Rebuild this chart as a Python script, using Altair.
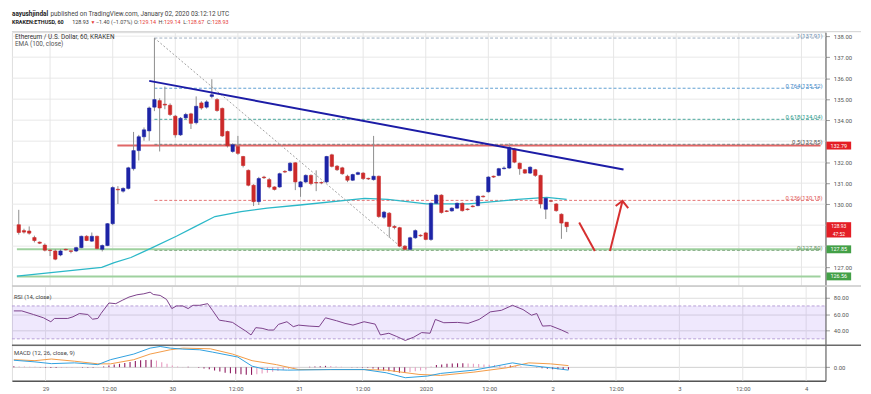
import altair as alt
import pandas as pd

# ---------------- data (hourly candles, t = hours from Dec 29 00:00) ----------------
FIRST_T = -6
opens = [
    129.02, 128.74, 128.72, 128.41, 128.19, 128.05,
    127.81, 127.77, 127.58, 127.85, 127.78, 127.77, 127.93, 128.47, 128.24, 128.47, 127.85,
    128.03, 129.07, 130.71, 130.62, 130.75, 131.69, 132.55, 133.21, 133.49,
    134.62, 134.93, 134.76, 134.71, 134.19, 133.30, 134.11, 134.30, 133.88, 134.82,
    134.62, 135.13, 134.98, 134.56, 133.46, 132.51, 132.74, 132.27, 131.61, 130.90,
    130.12, 131.29, 131.17, 130.82, 130.82, 131.56, 131.60, 131.97, 130.82, 131.06,
    131.37, 131.03, 131.03, 131.06, 132.35, 131.81, 131.73, 131.33, 131.14, 131.42,
    131.48, 131.23, 131.17, 131.33, 129.38, 129.57, 128.94, 128.88, 128.00, 127.85,
    128.40, 128.52, 128.63, 128.32, 130.04, 130.43, 129.68, 129.68, 129.81, 130.04,
    129.77, 129.91, 129.93, 130.38, 130.59, 131.33, 131.37, 131.69, 131.72, 132.63,
    131.95, 131.64, 131.48, 131.64, 131.37, 129.76, 130.16, 130.01, 129.52, 129.14,
]
closes = [
    128.65, 128.67, 128.62, 128.27, 128.14, 127.81,
    127.79, 127.38, 127.77, 127.82, 127.75, 127.93, 128.47, 128.27, 128.47, 127.89, 128.03,
    129.07, 130.79, 130.68, 130.75, 131.73, 132.55, 133.21, 133.54, 134.58,
    134.98, 134.58, 134.72, 134.27, 133.30, 134.09, 134.27, 133.85, 134.66, 134.58,
    134.87, 135.21, 134.46, 133.25, 132.78, 132.83, 132.42, 131.84, 130.90, 130.12,
    131.22, 131.26, 130.82, 130.70, 131.45, 131.53, 131.95, 131.06, 131.06, 131.37,
    130.98, 131.01, 131.01, 132.27, 131.80, 131.64, 131.45, 131.14, 131.41, 131.50,
    131.22, 131.20, 131.33, 129.41, 129.62, 128.94, 128.89, 128.00, 127.85, 128.40,
    128.74, 128.49, 128.32, 130.04, 130.43, 129.60, 129.65, 129.81, 130.04, 129.69,
    129.74, 129.88, 130.38, 130.35, 131.29, 131.29, 131.69, 131.72, 132.70, 132.00,
    131.69, 131.48, 131.76, 131.37, 130.01, 130.28, 130.14, 129.69, 129.10, 128.93,
]
highs = [
    129.73, 128.83, 128.94, 128.50, 128.22, 128.13,
    127.85, 127.85, 127.85, 127.88, 127.80, 127.97, 128.50, 128.52, 128.65, 128.50, 128.08,
    129.10, 130.85, 130.86, 130.80, 131.78, 133.44, 133.30, 133.65, 134.65,
    137.91, 135.04, 135.60, 134.80, 134.25, 134.15, 134.35, 134.35, 135.13, 134.90,
    134.95, 135.95, 135.05, 134.60, 133.50, 132.90, 133.25, 132.30, 131.65, 130.95,
    131.30, 131.35, 131.25, 130.85, 131.50, 131.62, 132.00, 132.00, 131.10, 131.42,
    131.42, 131.61, 131.08, 132.30, 132.40, 131.86, 131.78, 131.40, 131.45, 131.55,
    131.52, 131.26, 133.25, 131.36, 129.68, 129.62, 129.00, 128.92, 128.05, 128.45,
    128.80, 128.56, 128.68, 130.08, 130.48, 130.47, 129.72, 129.85, 130.08, 130.08,
    129.80, 129.95, 130.42, 130.42, 131.33, 131.36, 131.73, 131.80, 132.90, 132.68,
    131.98, 131.68, 131.80, 131.68, 131.40, 130.32, 130.20, 130.05, 129.56, 129.14,
]
lows = [
    128.55, 128.60, 128.55, 128.18, 128.10, 127.75,
    127.53, 127.33, 127.52, 127.80, 127.66, 127.72, 127.90, 128.24, 128.20, 127.85, 127.75,
    128.00, 129.00, 130.01, 130.55, 130.70, 131.60, 132.08, 133.02, 133.02,
    134.43, 132.51, 134.52, 134.20, 133.17, 133.25, 134.05, 133.58, 133.80, 134.50,
    134.55, 135.04, 134.40, 133.20, 132.70, 132.45, 132.35, 131.75, 130.85, 129.91,
    129.96, 131.20, 130.75, 130.65, 130.78, 131.48, 131.55, 130.67, 130.35, 131.00,
    130.90, 130.62, 130.95, 131.00, 131.75, 131.58, 131.40, 131.05, 131.10, 131.38,
    131.15, 131.15, 131.12, 129.35, 129.30, 128.41, 128.80, 127.95, 127.80, 127.78,
    128.35, 128.45, 128.28, 128.25, 130.00, 129.55, 129.62, 129.64, 129.78, 129.65,
    129.70, 129.85, 129.90, 130.32, 130.55, 131.25, 131.33, 131.66, 131.68, 131.95,
    131.40, 131.44, 131.44, 131.30, 129.80, 129.29, 130.10, 129.64, 128.35, 128.67,
]
hist = [
    0.08, 0.06, 0.05, 0.04, 0.03, -0.03,
    -0.05, -0.08, -0.08, -0.07, -0.06, -0.05, -0.03, -0.04, -0.05, -0.06, -0.04,
    0.05, 0.15, 0.25, 0.30, 0.38, 0.48, 0.55, 0.62, 0.66,
    0.68, 0.60, 0.45, 0.30, 0.15, 0.05, -0.02, 0.03, 0.00, -0.05,
    -0.12, -0.20, -0.30, -0.40, -0.50, -0.55, -0.60, -0.65, -0.68, -0.70,
    -0.65, -0.58, -0.50, -0.42, -0.35, -0.25, -0.15, -0.10, -0.05, 0.00,
    0.03, 0.05, 0.08, 0.12, 0.10, 0.06, 0.03, 0.00, -0.02, -0.04,
    -0.05, -0.06, -0.12, -0.25, -0.30, -0.38, -0.42, -0.50, -0.52, -0.45,
    -0.38, -0.30, -0.22, 0.05, 0.20, 0.25, 0.30, 0.33, 0.35, 0.36,
    0.34, 0.30, 0.28, 0.25, 0.22, 0.20, 0.15, 0.12, 0.15, 0.10,
    0.05, 0.02, 0.00, -0.03, -0.10, -0.15, -0.18, -0.20, -0.22, -0.22,
]

ema_t = [-6.36, 9.9, 12.3, 15.5, 19.2, 24.2, 27.9, 31.6, 36.6, 41.6, 47.9, 60.3, 64.7, 72.1, 80.2, 89.6, 95.2, 99]
ema_p = [126.57, 126.99, 127.22, 127.46, 127.88, 128.47, 128.94, 129.41, 129.65, 129.81, 129.96, 130.28, 130.23,
         130.01, 130.01, 130.23, 130.32, 130.23]

rsi_t = [-6.0, -4.5, -2.3, -0.4, 1.0, 1.7, 4.2, 5.2, 6.4, 8.0, 8.9, 9.9, 10.5, 12.0, 13.3, 14.5, 15.8, 17.3, 18.6,
         19.8, 20.4, 21.7, 22.9, 23.9, 24.8, 26.0, 27.0, 27.9, 29.2, 30.7, 31.6, 32.9, 34.1, 35.4, 36.6, 37.9, 38.9,
         39.8, 41.0, 42.2, 43.2, 44.1, 45.7, 46.9, 47.9, 49.9, 51.8, 53.0, 55.1, 56.7, 58.2, 60.3, 62.4, 63.4, 65.0,
         66.5, 68.1, 69.7, 71.2, 72.8, 73.8, 75.4, 78.0, 80.0, 82.1, 84.2, 86.3, 88.4, 90.4, 92.0, 93.0, 94.1, 95.6,
         97.7, 99.0]
rsi_v = [64.0, 64.0, 59.6, 55.6, 50.8, 54.8, 54.8, 56.8, 60.8, 59.6, 53.9, 54.8, 60.8, 73.6, 72.8, 76.8, 80.8, 83.6,
         84.8, 86.8, 84.0, 82.8, 78.0, 66.8, 70.0, 70.0, 66.8, 70.8, 70.8, 72.8, 64.7, 52.7, 51.5, 50.0, 44.8, 39.5,
         34.7, 43.6, 42.8, 40.7, 40.7, 47.6, 50.8, 44.8, 46.7, 45.5, 44.8, 55.6, 52.0, 48.8, 46.7, 50.8, 47.9, 34.7,
         36.8, 32.8, 28.0, 32.0, 37.6, 36.8, 53.6, 49.6, 50.0, 48.8, 53.6, 62.8, 64.7, 70.8, 65.6, 58.7, 60.8, 45.5,
         46.0, 40.7, 36.8]

macd_t = [-6.0, -2.0, 1.1, 5.5, 9.9, 12.3, 16.7, 19.8, 21.7, 23.6, 26.0, 29.2, 31.6, 36.4, 39.1, 41.6, 45.8, 54.0,
          60.3, 64.5, 68.1, 72.3, 74.8, 81.1, 85.2, 88.4, 90.4, 95.6, 99.0]
macd_v = [0.63, 0.48, 0.32, 0.39, 0.23, 0.68, 1.19, 1.73, 1.88, 1.73, 1.64, 1.58, 1.37, 0.92, 0.09, -0.20, -0.27,
          -0.22, -0.22, -0.51, -0.96, -0.81, -0.57, -0.27, 0.09, 0.39, 0.23, -0.06, -0.27]
sig_t = [-6.0, -2.0, 1.1, 5.5, 9.9, 12.3, 16.7, 19.8, 23.6, 26.0, 31.2, 35.4, 39.1, 43.7, 47.9, 54.1, 60.3, 64.5,
         70.7, 74.8, 81.1, 87.3, 91.5, 95.6, 99.0]
sig_v = [0.68, 0.59, 0.74, 0.54, 0.30, 0.30, 0.68, 1.19, 1.58, 1.73, 1.67, 1.19, 0.59, 0.23, -0.22, -0.22, -0.22,
         -0.27, -0.66, -0.75, -0.45, -0.06, 0.39, 0.30, 0.14]

fib_ratio = ["1", "0.764", "0.618", "0.5", "0.236", "0"]
fib_price = [137.91, 135.52, 134.04, 132.85, 130.18, 127.80]

trend_t = [19.0, 109.9]
trend_p = [135.87, 131.65]
diag_t = [20, 68]
diag_p = [137.91, 127.80]

arrow_seg = ["a", "a", "b", "b", "h", "h", "h"]
arrow_t = [101.4, 104.4, 107.3, 109.7, 108.4, 109.7, 110.8]
arrow_p = [129.13, 127.77, 127.77, 130.15, 129.91, 130.16, 129.81]

level_price = [132.79, 127.85, 126.56]
level_start = [12.9, -6.36, -6.36]

price_grid = list(range(127, 139))
price_ticks = [138, 137, 136, 135, 134, 132, 131, 130, 127]   # 133, 129, 128 sit under the price tags

x_tick_t = list(range(0, 145, 12))
x_tick_labels = ["29", "12:00", "30", "12:00", "31", "12:00", "2020", "12:00", "2", "12:00", "3", "12:00", "4"]

last_price = 128.93
countdown = "47:52"

# ---------------- layout / styles ----------------
W = 824
H1, H2, H3 = 257, 60, 36
XDOM = [-6.36, 147.66]
PDOM = [126.107, 138.19]
RDOM = [22.3, 94.4]
MDOM = [-1.23, 2.0]
UP, DOWN = "#1d24a6", "#cc2a2a"
FONT = "Roboto"
level_colors = ["#e06666", "#9fd19f", "#9fd19f"]
fib_line_colors = ["#9fb0c2", "#5f9fd2", "#4aa79b", "#808080", "#e57373", "#7fa87f"]
fib_text_colors = ["#6d8db0", "#3f88c8", "#2f9c8e", "#555555", "#e05555", "#6a946a"]


def xs():
    return alt.Scale(domain=XDOM, nice=False, zero=False)


def ps():
    return alt.Scale(domain=PDOM, nice=False, zero=False)


PA = alt.Axis(orient="right", values=price_ticks, format=".2f", grid=False,
              domainColor="#555555", tickColor="#999999", tickSize=4, labelFontSize=6, labelColor="#555555",
              labelPadding=4, title=None)
RA = alt.Axis(orient="right", values=[40, 60, 80], format=".2f", grid=True, gridColor="#dcdcdc",
              domainColor="#555555", tickColor="#999999", tickSize=4, labelFontSize=6, labelColor="#555555",
              labelPadding=4, title=None)
MA = alt.Axis(orient="right", values=[0], format=".2f", grid=True, gridColor="#d0d0d0",
              domainColor="#555555", tickColor="#999999", tickSize=4, labelFontSize=6, labelColor="#555555",
              labelPadding=4, title=None)
label_expr = "[" + ",".join("'%s'" % s for s in x_tick_labels) + "][round(datum.value/12)]"
XA = alt.Axis(values=x_tick_t, labelExpr=label_expr, grid=False, ticks=False, domainColor="#555555",
              domainWidth=1.5, labelFontSize=6, labelColor="#555555", labelPadding=5, title=None)

one = pd.DataFrame({"k": [0]})


def txt(s, px, py, size=6.5, color="#333333", weight="normal", align="left"):
    return alt.Chart(one).mark_text(text=s, fontSize=size, color=color, fontWeight=weight, align=align,
                                    baseline="middle", font=FONT).encode(x=alt.value(px), y=alt.value(py))


def hrule(py, color, width=1, x2=W + 36):
    return alt.Chart(one).mark_rule(color=color, strokeWidth=width).encode(
        x=alt.value(0), x2=alt.value(x2), y=alt.value(py))


vgrid_df = pd.DataFrame({"t": x_tick_t})


def vgrid(axis=None):
    return alt.Chart(vgrid_df).mark_rule(color="#e6e6e6", strokeWidth=1).encode(
        x=alt.X("t:Q", scale=xs(), axis=axis))


# ---------------- price panel ----------------
t_vals = list(range(FIRST_T, FIRST_T + len(opens)))
candles = pd.DataFrame({"t": t_vals, "open": opens, "close": closes, "high": highs, "low": lows})
candles["c"] = [UP if c >= o else DOWN for o, c in zip(opens, closes)]

hgrid = alt.Chart(pd.DataFrame({"p": price_grid})).mark_rule(color="#e8e8e8", strokeWidth=1).encode(
    x=alt.value(0), x2=alt.value(W), y=alt.Y("p:Q", scale=ps(), axis=PA))
wicks = alt.Chart(candles).mark_rule(color="#8c8c8c", strokeWidth=1).encode(
    x=alt.X("t:Q", scale=xs(), axis=None), y=alt.Y("low:Q", scale=ps(), axis=PA), y2="high:Q")
bodies = alt.Chart(candles).mark_bar(size=3.4, strokeWidth=0.6).encode(
    x=alt.X("t:Q", scale=xs(), axis=None), y=alt.Y("open:Q", scale=ps(), axis=PA), y2="close:Q",
    color=alt.Color("c:N", scale=None), stroke=alt.Stroke("c:N", scale=None))

lv_df = pd.DataFrame({"p": level_price, "t1": level_start, "t2": [XDOM[1]] * 3, "c": level_colors})
levels = alt.Chart(lv_df).mark_rule(strokeWidth=2).encode(
    x=alt.X("t1:Q", scale=xs(), axis=None), x2="t2:Q", y=alt.Y("p:Q", scale=ps(), axis=PA),
    color=alt.Color("c:N", scale=None))

fib_df = pd.DataFrame({"p": fib_price, "t1": [20] * 6, "t2": [XDOM[1]] * 6, "c": fib_line_colors,
                       "tc": fib_text_colors,
                       "lab": ["%s(%.2f)" % (r, p) for r, p in zip(fib_ratio, fib_price)]})
fibs = alt.Chart(fib_df).mark_rule(strokeWidth=1, strokeDash=[3, 2]).encode(
    x=alt.X("t1:Q", scale=xs(), axis=None), x2="t2:Q", y=alt.Y("p:Q", scale=ps(), axis=PA),
    color=alt.Color("c:N", scale=None))
fib_labels = alt.Chart(fib_df).mark_text(align="right", baseline="middle", dy=-2, fontSize=6, font=FONT).encode(
    x=alt.value(W - 3), y=alt.Y("p:Q", scale=ps(), axis=PA), text="lab:N", color=alt.Color("tc:N", scale=None))

ema = alt.Chart(pd.DataFrame({"t": ema_t, "p": ema_p})).mark_line(color="#2bb8c8", strokeWidth=1.3).encode(
    x=alt.X("t:Q", scale=xs(), axis=None), y=alt.Y("p:Q", scale=ps(), axis=PA))
trend = alt.Chart(pd.DataFrame({"t": trend_t, "p": trend_p})).mark_line(color="#1c1ca6", strokeWidth=2).encode(
    x=alt.X("t:Q", scale=xs(), axis=None), y=alt.Y("p:Q", scale=ps(), axis=PA))
diag = alt.Chart(pd.DataFrame({"t": diag_t, "p": diag_p})).mark_line(
    color="#a0a0a0", strokeWidth=1, strokeDash=[2, 2]).encode(
    x=alt.X("t:Q", scale=xs(), axis=None), y=alt.Y("p:Q", scale=ps(), axis=PA))
arrows = alt.Chart(pd.DataFrame({"s": arrow_seg, "t": arrow_t, "p": arrow_p, "o": list(range(len(arrow_t)))})
                   ).mark_line(color="#d62f2f", strokeWidth=2).encode(
    x=alt.X("t:Q", scale=xs(), axis=None), y=alt.Y("p:Q", scale=ps(), axis=PA), detail="s:N", order="o:Q")


def box(price, color, top=-4, bottom=4):
    return alt.Chart(pd.DataFrame({"p": [price]})).mark_rect(color=color, yOffset=top, y2Offset=bottom).encode(
        x=alt.value(W + 1), x2=alt.value(W + 26), y=alt.Y("p:Q", scale=ps(), axis=PA), y2="p:Q")


def box_text(price, s, dy=0, size=5.5):
    return alt.Chart(pd.DataFrame({"p": [price]})).mark_text(
        text=s, color="white", fontSize=size, align="center", baseline="middle", dy=dy, font=FONT).encode(
        x=alt.value(W + 13.5), y=alt.Y("p:Q", scale=ps(), axis=PA))


HS = 5.5  # header line-2 font size
price_layers = [
    hgrid, vgrid(), levels, fibs, fib_labels, ema, diag, wicks, bodies, trend, arrows,
    box(level_price[0], "#e41e25"), box_text(level_price[0], "%.2f" % level_price[0]),
    box(last_price, "#e41e25", -4.5, 11), box_text(last_price, "%.2f" % last_price, -0.5, 5),
    box_text(last_price, countdown, 7, 5),
    box(level_price[1], "#43a047"), box_text(level_price[1], "%.2f" % level_price[1]),
    box(level_price[2], "#43a047"), box_text(level_price[2], "%.2f" % level_price[2]),
    hrule(-0.5, "#d0d0d0"),
    txt("Ethereum / U.S. Dollar, 60, KRAKEN", 3, 4.5, 6.5, "#333333"),
    txt("EMA (100, close)", 3, 12.5, 6.5, "#555555"),
    # header
    txt("aayushjindal", 0, -18.3, 6.5, "#222222", "bold"),
    txt("published on TradingView.com, January 02, 2020 03:12:12 UTC", 39, -18.3, 6.5, "#444444"),
    txt("KRAKEN:ETHUSD, 60", 0, -10.5, HS, "#222222", "bold"),
    txt("128.93", 61, -10.5, HS, "#333333"),
    txt("\u25bc", 79.5, -10.5, 5, "#e53935"),
    txt("\u22121.40 (\u22121.07%)", 85, -10.5, HS, "#444444"),
    txt("O:", 123.5, -10.5, HS, "#444444"), txt("129.14", 129, -10.5, HS, "#e53935"),
    txt("H:", 148.5, -10.5, HS, "#444444"), txt("129.14", 154, -10.5, HS, "#e53935"),
    txt("L:", 173.5, -10.5, HS, "#444444"), txt("128.67", 178, -10.5, HS, "#e53935"),
    txt("C:", 197.5, -10.5, HS, "#444444"), txt("128.93", 202.5, -10.5, HS, "#e53935"),
]
price = alt.layer(*price_layers).properties(width=W, height=H1)

# ---------------- RSI panel ----------------
def rs():
    return alt.Scale(domain=RDOM, nice=False, zero=False)


band = alt.Chart(pd.DataFrame({"hi": [70], "lo": [30]})).mark_rect(color="#7e3ff2", opacity=0.12).encode(
    x=alt.value(0), x2=alt.value(W), y=alt.Y("hi:Q", scale=rs(), axis=RA), y2="lo:Q")
band_lines = alt.Chart(pd.DataFrame({"v": [70, 30]})).mark_rule(
    color="#b79fd6", strokeWidth=1, strokeDash=[3, 2]).encode(
    x=alt.value(0), x2=alt.value(W), y=alt.Y("v:Q", scale=rs(), axis=RA))
rsi_line = alt.Chart(pd.DataFrame({"t": rsi_t, "v": rsi_v})).mark_line(color="#7b3f89", strokeWidth=1).encode(
    x=alt.X("t:Q", scale=xs(), axis=None), y=alt.Y("v:Q", scale=rs(), axis=RA))
rsi = alt.layer(
    vgrid(), band, band_lines, rsi_line, hrule(0, "#c8c8c8", 1.5),
    txt("RSI (14, close)", 2, 11, 6, "#444444"),
).properties(width=W, height=H2)

# ---------------- MACD panel ----------------
def ms():
    return alt.Scale(domain=MDOM, nice=False, zero=False)


hist_df = pd.DataFrame({"t": t_vals, "h": hist, "b": [0.0] * len(hist)})
grow = [abs(hist[i]) >= abs(hist[i - 1]) if i > 0 else True for i in range(len(hist))]
hist_df["c"] = ["#8e1b60" if g else "#e79ac0" for g in grow]
bars = alt.Chart(hist_df).mark_rule(strokeWidth=1.1).encode(
    x=alt.X("t:Q", scale=xs(), axis=XA), y=alt.Y("h:Q", scale=ms(), axis=MA), y2="b:Q",
    color=alt.Color("c:N", scale=None))
macd_line = alt.Chart(pd.DataFrame({"t": macd_t, "v": macd_v})).mark_line(color="#2e9fe0", strokeWidth=1).encode(
    x=alt.X("t:Q", scale=xs(), axis=XA), y=alt.Y("v:Q", scale=ms(), axis=MA))
sig_line = alt.Chart(pd.DataFrame({"t": sig_t, "v": sig_v})).mark_line(color="#f39a45", strokeWidth=1).encode(
    x=alt.X("t:Q", scale=xs(), axis=XA), y=alt.Y("v:Q", scale=ms(), axis=MA))
macd = alt.layer(
    vgrid(XA), bars, sig_line, macd_line, hrule(0, "#6a6a6a", 1.5),
    txt("MACD (12, 26, close, 9)", 2, 8, 6, "#444444"),
).properties(width=W, height=H3)

chart = alt.vconcat(price, rsi, macd, spacing=0, bounds="flush").resolve_scale(
    x="independent", y="independent").properties(
    padding={"left": 2, "top": 0, "right": 0, "bottom": 0}, background="white"
).configure_view(strokeWidth=0).configure(font=FONT)

chart.save("out.html", embed_options={"renderer": "svg", "actions": False})
